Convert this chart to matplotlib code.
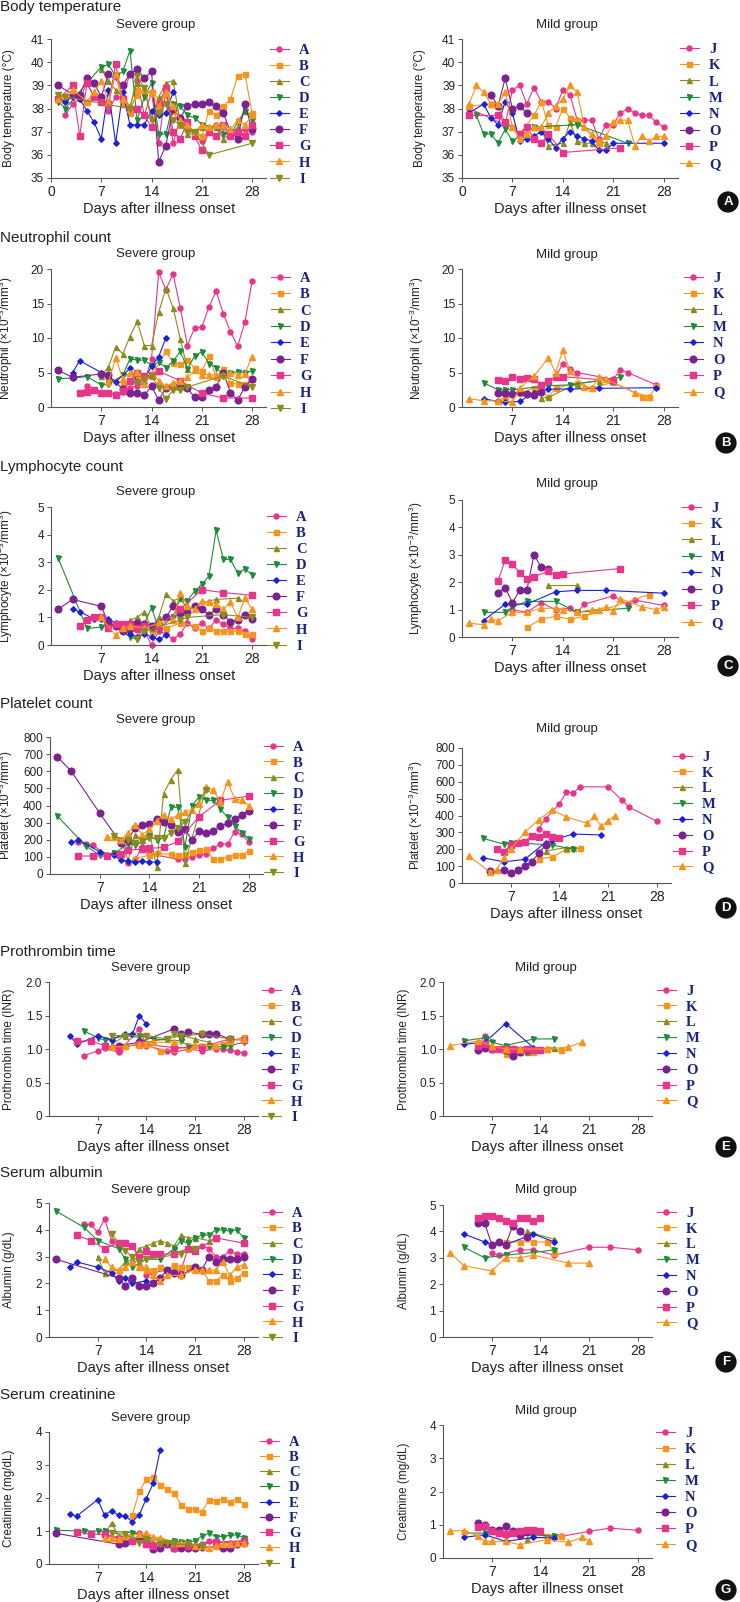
import matplotlib
matplotlib.use('Agg')
import matplotlib.pyplot as plt
from matplotlib import font_manager

# ---- fonts ----
names = {f.name for f in font_manager.fontManager.ttflist}
narrow = 'Liberation Sans Narrow' if 'Liberation Sans Narrow' in names else 'Liberation Sans'
plt.rcParams['font.family'] = [narrow, 'DejaVu Sans']
plt.rcParams['mathtext.fontset'] = 'custom'
plt.rcParams['mathtext.rm'] = 'Liberation Sans'
plt.rcParams['mathtext.it'] = 'Liberation Sans:italic'

# ---- data (days after onset, values) ----
temp_severe = {
    'A': ([2,3,4,5,6,7,8,9,10,11,12,13,14,15,16,17,18,19,20,21,22,23,24,25,26,27,28],
          [37.7,38.2,38.4,39.1,38.5,38.4,37.9,38.5,38.5,39.5,39.2,37.7,38.7,36.5,38.9,36.5,37.6,37.4,36.8,36.6,37.0,37.3,37.2,36.9,37.0,37.1,37.0]),
    'B': ([1,2,3,5,6,7,8,9,10,11,12,13,14,15,16,17,18,19,20,21,22,23,24,25,26,27,28],
          [38.4,38.4,38.7,38.3,38.6,38.3,38.2,39.5,38.2,37.8,38.8,38.7,38.7,38.4,38.6,37.9,37.3,37.1,37.0,36.8,37.9,37.7,38.1,38.4,39.4,39.5,37.8]),
    'C': ([7,8,9,10,11,12,13,14,15,16,17,18,19,20,21,22,23,24,25,26,27,28],
          [39.7,39.2,38.8,38.5,38.1,39.1,38.9,37.6,38.5,39.1,39.2,37.4,36.9,36.9,37.2,37.2,37.2,36.7,36.9,37.2,37.9,37.7]),
    'D': ([1,2,5,7,8,9,10,11,12,13,14,15,16,17,18,19,20,21,23,24,25,26,27,28],
          [38.3,38.0,39.1,39.8,39.9,39.4,39.6,40.5,37.5,38.5,39.1,36.9,36.9,38.2,38.1,37.7,37.6,37.3,37.2,36.9,36.9,37.4,37.9,37.5]),
    'E': ([1,2,3,4,5,6,7,8,9,10,11,12,13,14,15,16,17],
          [38.4,38.3,38.5,38.4,37.9,37.4,36.7,38.8,36.5,38.7,37.3,37.3,37.3,37.9,37.7,37.8,38.7]),
    'F': ([1,3,4,5,6,7,8,10,11,12,13,14,15,16,17,18,19,20,21,22,23,24,25,26,27,28],
          [39.0,38.6,38.6,39.3,39.1,38.5,39.5,39.0,39.5,39.7,39.3,39.6,35.7,36.4,38.0,37.6,38.1,38.2,38.2,38.3,38.1,37.8,37.0,36.7,38.2,37.1]),
    'G': ([1,3,4,5,6,7,8,9,10,11,12,13,14,15,16,17,18,19,20,21,22,23,24,25,26,27,28],
          [38.4,39.0,36.8,39.1,38.5,38.3,38.2,39.9,38.4,38.0,38.0,37.7,37.2,38.2,38.9,37.0,36.7,37.4,36.8,36.2,37.0,36.8,37.3,36.8,37.0,36.8,37.3]),
    'H': ([1,3,5,6,7,8,9,10,11,12,13,14,15,16,17,18,19,20,21,22,23,24,25,26,27,28],
          [38.4,38.8,38.3,38.7,39.2,38.3,39.5,38.4,38.0,38.6,38.8,38.7,38.1,38.7,38.1,37.5,37.3,37.0,37.3,37.2,37.3,37.3,37.1,37.5,37.3,37.7]),
    'I': ([1,2,11,12,13,14,15,16,17,18,19,20,22,28],
          [38.6,38.5,38.0,39.4,38.9,37.5,37.8,38.2,37.5,37.3,37.0,37.0,36.0,36.5]),
}
temp_mild = {
    'J': ([1,6,7,8,9,10,11,12,13,14,15,16,17,18,19,20,21,22,23,24,25,26,27,28],
          [38.0,37.3,38.8,39.0,38.2,38.9,38.3,38.3,38.0,38.8,38.6,37.5,37.5,37.5,36.7,37.3,37.3,37.8,38.0,37.8,37.7,37.7,37.4,37.2]),
    'K': ([1,4,5,6,7,8,10,11,12,13,14,15,16,19],
          [38.1,38.2,38.1,37.4,37.2,36.9,37.7,38.3,37.3,37.2,38.0,37.6,37.5,36.5]),
    'L': ([10,11,12,14,15,16,17,18,19,20], [37.2,37.1,36.4,36.5,37.4,36.6,36.5,36.5,36.6,36.5]),
    'M': ([2,3,4,5,6,7,10,16,23], [37.7,36.9,36.9,36.5,37.1,36.6,37.2,37.3,36.5]),
    'N': ([1,3,4,5,6,7,8,9,10,11,12,13,14,15,16,17,18,19,20,21,28],
          [37.8,38.2,37.6,37.3,38.3,37.8,36.6,36.7,36.8,37.0,36.7,36.3,36.7,37.0,36.8,36.7,36.6,36.2,36.2,36.5,36.5]),
    'O': ([4,5,6,7,8,9], [38.6,38.1,39.3,38.0,38.1,37.8]),
    'P': ([1,5,6,8,9,10,11,12,14,22], [37.7,37.7,37.4,36.9,37.2,36.7,36.5,36.9,36.1,36.3]),
    'Q': ([1,2,3,4,5,6,7,8,9,10,11,12,13,14,15,16,17,18,19,20,21,22,23,24,25,26,27,28],
          [38.2,39.0,38.7,38.2,38.2,38.7,37.2,36.7,36.9,37.2,37.2,37.8,38.1,38.4,39.0,38.7,37.2,36.9,36.6,36.8,37.4,37.5,37.5,36.4,36.8,36.6,36.8,36.8]),
}

neut_severe = {
    'A': ([5,6,7,8,9,10,11,12,13,14,15,16,17,18,19,20,21,22,23,24,25,26,27,28],
          [3.1,2.5,2.1,2.0,1.9,2.2,2.8,3.0,3.5,7.0,19.5,17.0,19.3,14.4,8.9,11.5,11.6,14.5,16.8,13.5,10.9,8.8,12.3,18.2]),
    'B': ([8,10,12,14,16,17,18,19,20,21,22,23,24,25,26,27,28],
          [3.9,3.5,4.0,4.5,8.1,6.4,6.2,6.8,5.6,5.2,7.4,4.3,5.5,3.5,3.3,3.3,4.0]),
    'C': ([7,8,9,10,11,12,13,14,15,16,17,18,19],
          [4.5,5.8,8.7,7.7,10.2,12.4,8.9,8.9,13.7,17.2,14.4,9.9,5.5]),
    'D': ([1,3,5,7,8,10,11,12,13,14,15,16,17,18,19,20,21,22,23,24,25,26,27,28],
          [4.1,4.2,4.4,3.2,3.3,4.6,7.0,6.8,6.8,6.0,6.5,5.7,6.6,8.1,5.5,7.4,8.0,6.3,5.7,4.7,5.0,5.1,5.0,5.2]),
    'E': ([3,4,7,8,9,11,12,13,14,15,16], [5.0,6.7,5.0,4.4,3.6,5.6,3.6,4.0,5.9,7.3,10.0]),
    'F': ([1,3,7,8,10,11,12,13,14,15,16,17,18,19,20,21,22,23,24,25,26,27,28],
          [5.3,4.3,4.8,4.6,2.6,2.0,2.0,1.7,3.0,1.0,2.7,3.0,2.9,2.7,1.4,1.5,2.5,2.9,5.0,2.1,1.0,2.9,4.0]),
    'G': ([4,5,6,7,8,9,10,11,12,13,14,15,18,21,24,28],
          [2.1,2.2,2.4,2.0,2.0,1.8,2.3,3.7,5.0,4.5,4.6,5.2,3.8,2.0,1.3,1.3]),
    'H': ([8,9,10,11,12,13,14,15,16,17,18,19,20,21,22,23,24,25,26,27,28],
          [3.6,7.1,4.1,5.0,5.1,3.3,4.9,3.8,3.0,3.5,3.8,4.3,5.3,4.7,4.7,4.6,4.7,5.0,4.7,4.8,7.3]),
    'I': ([12,13,14,15,16,17,18,19,24,28], [3.5,4.1,4.5,2.8,1.2,2.4,2.5,2.9,4.5,2.9]),
}
neut_mild = {
    'J': ([13,14,15,16,21,22,23,27], [4.3,6.3,5.5,5.0,4.0,5.4,5.0,3.2]),
    'K': ([5,6,8,10,12,13,16,18,21,25,26,27], [0.8,1.5,2.0,2.7,1.5,2.7,3.5,2.7,3.6,1.5,1.4,3.1]),
    'L': ([11,12,16,19], [1.3,1.4,3.4,3.8]),
    'M': ([3,5,6,7,12,15,22], [3.5,2.5,2.5,2.5,3.1,3.2,4.3]),
    'N': ([3,5,6,8,10,12,15,19,27], [1.2,0.8,0.7,0.8,2.1,2.6,2.6,2.7,2.8]),
    'O': ([5,6,7,8,9,10,11], [2.0,2.1,1.9,2.2,1.9,1.7,2.2]),
    'P': ([5,6,7,8,9,10,11,12,13,14,21], [3.9,3.8,4.3,4.1,4.2,4.0,3.2,3.8,4.3,4.4,3.8]),
    'Q': ([1,3,5,7,8,10,12,13,14,15,17,18,19,20,24,26],
          [1.2,0.9,0.9,0.7,2.7,4.5,7.1,5.0,8.2,5.2,2.9,2.7,4.3,4.0,2.1,1.5]),
}

lymph_severe = {
    'A': ([10,11,12,13,14,15,16,17,18,19,20,21,22,23,24,25,26,27,28],
          [0.6,0.5,0.55,0.5,0.0,0.5,0.4,0.2,0.4,0.8,0.6,0.8,0.6,0.9,0.75,0.6,0.6,0.5,0.2]),
    'B': ([12,14,16,18,20,21,22,23,24,25,26,27,28], [0.6,0.5,0.6,0.8,0.7,0.5,0.6,0.5,0.5,0.5,0.5,0.4,0.4]),
    'C': ([11,12,13,14,15,16,17,18,19,20,22,23,26], [0.9,1.0,1.2,0.6,1.0,1.85,1.6,1.7,1.3,1.4,1.6,1.65,1.7]),
    'D': ([1,5,7,8,11,12,14,15,17,18,19,20,21,22,23,24,25,26,27,28],
          [3.15,0.6,0.65,0.8,0.3,0.2,1.35,0.6,1.0,1.7,1.6,1.95,2.2,2.5,4.15,3.1,3.1,2.6,2.75,2.55]),
    'E': ([3,4,6,7,8,9,11,12,13,14,15,16], [1.3,1.2,0.95,0.95,0.95,0.8,0.4,0.3,0.4,0.3,0.2,0.35]),
    'F': ([1,3,7,8,9,10,11,12,13,14,16,17,18,19,20,21,22,23,24,25,26,27,28],
          [1.3,1.65,1.4,0.8,0.7,0.5,0.6,0.8,0.75,0.7,1.0,1.4,1.15,1.2,1.4,1.3,1.1,1.3,1.1,0.85,0.9,1.1,0.95]),
    'G': ([4,5,6,7,8,9,10,11,12,13,15,18,21,24,28],
          [0.7,0.9,1.0,1.0,0.6,0.75,0.75,0.75,0.6,0.7,0.7,1.3,2.0,1.9,1.8]),
    'H': ([7,9,10,11,13,15,17,18,19,20,21,22,23,24,25,26,27,28],
          [1.0,0.35,0.6,0.7,0.6,0.8,0.9,1.9,1.4,1.3,1.6,1.55,1.5,1.3,1.55,1.0,1.7,1.3]),
    'I': ([12,13,18,19,24,28], [0.2,0.5,0.9,1.0,1.1,1.0]),
}
lymph_mild = {
    'J': ([7,9,11,13,15,16,17,21,23,24,28], [1.0,0.9,1.25,1.0,1.05,0.9,1.2,1.5,1.2,1.35,1.15]),
    'K': ([9,11,13,15,17,26], [0.35,0.65,0.75,0.65,0.75,1.55]),
    'L': ([12,16], [1.9,1.9]),
    'M': ([3,6,7,9,13,16,23], [0.9,0.9,1.1,1.3,1.3,0.9,1.05]),
    'N': ([3,6,9,13,16,20,28], [0.6,1.2,1.2,1.65,1.7,1.7,1.6]),
    'O': ([5,6,7,8,9,10,11,12], [1.6,1.8,1.25,1.7,1.7,3.0,2.55,2.5]),
    'P': ([5,6,7,8,9,10,12,13,14,22], [2.05,2.8,2.65,2.35,2.1,2.2,2.4,2.25,2.3,2.5]),
    'Q': ([1,3,4,5,7,9,11,13,14,16,18,19,20,21,22,25,27,28],
          [0.5,0.45,0.65,0.6,0.9,0.9,1.05,1.05,1.0,0.9,1.0,1.0,1.1,0.95,1.4,1.1,1.0,1.1]),
}

plt_severe = {
    'A': ([4,5,6,8,9,11,12,13,14,18,19,20,21,22,23,24,25,26,27,28],
          [185,175,170,110,120,65,85,160,120,85,90,100,110,115,150,175,175,245,235,185]),
    'B': ([12,14,15,17,18,19,20,21,22,23,24,25,26,27,28],
          [90,110,120,115,110,115,130,140,145,85,85,100,110,110,135]),
    'C': ([9,10,11,12,13,14,15,16,17,18,19,22], [230,200,80,230,200,250,40,470,550,610,65,500]),
    'D': ([1,5,7,9,11,12,13,14,15,16,17,18,19,20,21,22,23,24,25,26,27,28],
          [340,165,110,120,175,170,190,220,200,210,390,390,160,400,450,430,430,380,330,280,240,205]),
    'E': ([3,4,7,9,10,11,12,13,14,15], [185,200,130,110,80,75,70,75,70,70]),
    'F': ([1,3,7,10,11,12,13,14,15,16,17,18,19,20,21,22,23,24,25,26,27,28],
          [685,600,355,180,200,270,285,290,320,305,285,245,260,200,250,240,250,280,295,320,345,370]),
    'G': ([4,6,8,10,11,13,14,16,18,21,24,28], [105,105,105,115,140,145,150,155,190,335,430,455]),
    'H': ([8,9,10,11,12,13,14,15,16,17,18,19,20,21,22,23,24,25,26,27,28],
          [215,215,200,240,285,230,260,310,345,320,345,360,375,410,510,490,420,540,440,430,400]),
    'I': ([9,11,12,13,14,15,16,17,18,19,22], [220,200,180,190,210,210,210,240,270,305,490]),
}
plt_mild = {
    'J': ([11,12,14,15,16,17,21,23,24,28], [320,380,470,540,535,570,570,490,450,365]),
    'K': ([11,13,15,17], [140,155,200,205]),
    'L': ([12,15,16], [190,210,210]),
    'M': ([3,6,7,13,16], [265,230,240,225,200]),
    'N': ([3,6,9,12,13,16,20], [150,125,140,240,255,290,285]),
    'O': ([4,6,7,8,9,10,11,12], [70,75,60,75,100,125,175,225]),
    'P': ([5,6,7,8,9,10,11,12,13,14], [200,185,225,240,245,280,270,290,270,265]),
    'Q': ([1,4,5,6,7,9,11,13,15,18,19,20,21,22], [160,65,80,150,200,300,375,435,390,355,395,335,370,400]),
}

pt_severe = {
    'A': ([5,7,8,10,13,14,17,18,20,22,24,25,26,27,28],
          [0.9,0.97,1.02,0.95,1.3,1.05,0.97,0.95,1.0,0.97,1.0,1.0,0.98,0.96,0.94]),
    'B': ([8,10,11,13,14,16,18,20,22,23,25,28], [1.05,1.02,1.05,1.06,1.07,0.97,1.0,1.02,1.05,1.05,1.08,1.18]),
    'C': ([9,11,13,14,15,17,19,21,23], [1.07,1.2,1.17,1.1,1.12,1.15,1.2,1.15,1.1]),
    'D': ([5,7,8,11,13,15,19,20,23,25,26,28], [1.27,1.17,1.13,1.2,1.2,1.15,1.12,1.05,1.05,1.03,1.05,1.1]),
    'E': ([3,4,7,9,11,12,13,14], [1.2,1.07,1.2,1.14,1.23,1.22,1.5,1.37]),
    'F': ([10,13,18,19,20,22,23,24,26], [1.05,1.1,1.3,1.22,1.25,1.22,1.22,1.23,1.15]),
    'G': ([4,6,8,10,13,18,22,26,28], [1.12,1.12,1.05,1.0,1.08,1.02,1.03,1.15,1.13]),
    'H': ([9,11,13,14,15,18,21,24,26,28], [1.03,1.04,1.08,1.08,1.1,1.1,1.06,1.05,1.12,1.15]),
    'I': ([9,11,14,17,18,19,22,26], [1.2,1.2,1.2,1.15,1.22,1.2,1.22,1.15]),
}
pt_mild = {
    'J': ([5,6,7,9,10], [1.05,1.2,0.98,1.0,1.0]),
    'K': ([9,11,13,15,17], [0.92,0.95,0.95,1.0,0.98]),
    'L': ([10,12,14,16], [1.0,0.95,1.0,1.02]),
    'M': ([3,6,7,9,13,16], [1.12,1.17,1.1,1.05,1.15,1.15]),
    'N': ([3,6,9,13], [1.07,1.1,1.38,1.02]),
    'O': ([5,6,10,11,12], [0.98,1.02,0.9,0.95,0.98]),
    'P': ([5,6,7,8,9,10,11,12,13,14], [1.05,1.07,1.0,1.0,1.0,1.0,0.98,1.0,0.98,0.98]),
    'Q': ([1,5,7,9,11,15,18,20], [1.05,1.12,1.05,1.0,1.0,1.0,1.03,1.1]),
}

alb_severe = {
    'A': ([5,6,7,8,9,10,11,12,13,14,15,17,19,20,21,22,23,24,25,26,27,28],
          [4.2,4.2,3.9,4.4,3.6,3.5,3.5,3.4,2.9,2.3,2.4,2.5,2.5,3.3,3.3,3.4,3.3,3.0,3.0,3.2,3.1,3.1]),
    'B': ([13,14,15,16,17,18,19,20,21,22,23,24,25,26,27,28],
          [2.6,2.5,2.5,2.6,2.5,2.7,2.6,2.6,2.6,2.5,2.1,2.1,2.3,2.1,2.2,2.4]),
    'C': ([7,8,10,11,12,13,14,15,16,17,18,19,20,21,23,24],
          [3.0,2.4,2.5,2.8,2.9,3.3,3.4,3.5,3.6,3.5,3.4,3.8,3.7,3.7,3.6,3.7]),
    'D': ([1,5,7,10,11,12,14,16,18,19,20,21,22,23,24,25,26,27,28],
          [4.7,4.1,3.6,3.3,2.9,2.6,2.9,2.9,3.3,3.6,3.5,3.7,3.8,3.8,4.0,4.0,3.95,4.0,3.7]),
    'E': ([3,4,7,9,10,11,12,14], [2.6,2.8,2.6,2.4,2.1,2.2,2.0,2.1]),
    'F': ([1,10,11,12,13,14,15,16,17,18,19,21,22,23,24,25,26,27,28],
          [2.9,2.2,1.9,2.2,1.9,1.9,2.0,2.2,2.5,2.4,2.3,2.6,2.5,3.0,2.8,2.9,2.9,2.9,3.0]),
    'G': ([4,6,8,10,11,12,13,14,15,16,18,20,21,24,28],
          [3.8,3.6,3.3,3.5,3.5,3.4,3.0,3.2,3.1,3.1,3.1,3.3,3.2,3.7,3.5]),
    'H': ([8,9,10,11,12,13,14,15,16,17,19,21,22,23,24,25,26,27,28],
          [2.9,2.6,2.5,2.6,2.8,2.6,2.6,2.3,2.1,2.3,2.3,2.5,2.5,2.5,2.5,2.8,2.3,2.6,2.7]),
    'I': ([9,11,12,13,14,19,21], [3.85,3.2,3.0,2.8,2.9,3.1,3.3]),
}
alb_mild = {
    'J': ([7,8,11,13,16,21,24,28], [3.2,3.1,3.3,3.3,3.1,3.4,3.4,3.3]),
    'K': ([9,11,13,15,16], [3.6,3.6,3.6,3.6,3.2]),
    'L': ([12,16], [4.0,3.7]),
    'M': ([3,6,9,13,16], [3.4,3.0,3.1,3.2,3.3]),
    'N': ([3,6,7,9,13,16], [3.9,3.6,3.5,3.5,3.9,3.6]),
    'O': ([5,6,7,8,9,10,11,12], [4.3,4.3,3.5,3.6,3.5,4.2,4.0,3.8]),
    'P': ([5,6,7,8,9,10,11,12,13,14], [4.5,4.6,4.6,4.5,4.4,4.3,4.5,4.5,4.4,4.5]),
    'Q': ([1,3,7,9,11,13,18,21], [3.2,2.7,2.5,3.0,3.0,3.1,2.8,2.8]),
}

cre_severe = {
    'A': ([8,10,13,14,15,17,19,22,23,24,26,28], [0.9,0.8,0.95,0.75,0.6,0.6,0.6,0.6,0.7,0.65,0.65,0.7]),
    'B': ([12,13,14,15,16,17,18,19,20,21,22,23,24,25,26,27,28],
          [1.5,2.2,2.57,2.65,2.4,2.27,2.15,1.8,1.67,1.67,1.58,1.93,1.92,1.98,1.88,1.98,1.83]),
    'C': ([8,9,10,13,16,19], [0.9,1.25,0.85,0.8,0.75,0.65]),
    'D': ([1,5,7,8,12,14,16,18,19,20,21,22,23,24,25,26,27,28],
          [1.02,1.0,1.0,1.0,0.95,0.85,0.7,0.7,0.68,0.67,0.7,0.85,0.93,0.83,0.83,0.87,0.88,0.8]),
    'E': ([3,4,7,8,9,10,11,12,13,14,15,16], [1.53,1.45,1.95,1.48,1.62,1.48,1.45,1.28,1.5,1.98,2.45,3.45]),
    'F': ([1,10,11,13,15,16,17,18,19,20,21,22,25,26,27,28],
          [0.93,0.6,0.65,0.75,0.45,0.5,0.6,0.5,0.48,0.48,0.47,0.52,0.5,0.48,0.6,0.65]),
    'G': ([4,6,8,10,12,14,15,18,20,24,28], [0.98,0.9,0.9,0.75,0.7,0.62,0.55,0.5,0.55,0.67,0.7]),
    'H': ([8,9,10,11,13,14,15,16,18,19,21,22,23,24,25,26,27,28],
          [0.78,0.78,0.75,0.85,0.9,0.95,0.82,0.8,0.65,0.65,0.55,0.55,0.5,0.55,0.6,0.62,0.65,0.65]),
    'I': ([9,11,13,14,16,17,18,20,22], [0.93,0.9,0.65,0.75,0.6,0.65,0.6,0.6,0.55]),
}
cre_mild = {
    'J': ([5,6,7,9,11,13,17,21,24,28], [1.0,1.0,0.8,0.75,0.8,0.75,0.65,0.8,0.9,0.83]),
    'K': ([9,11,13,15,17], [0.75,0.75,0.75,0.65,0.65]),
    'L': ([12,16], [0.58,0.65]),
    'M': ([3,6,9,13,16], [0.75,0.75,0.65,0.7,0.65]),
    'N': ([3,6,9,13,16], [0.62,0.7,0.5,0.62,0.6]),
    'O': ([5,6,7,8,9,10,11,12], [1.05,1.0,0.85,0.83,0.97,0.8,0.68,0.77]),
    'P': ([5,6,7,8,9,10,11,12,13,14], [0.92,0.95,0.8,0.75,0.72,0.75,0.8,0.85,0.83,0.8]),
    'Q': ([1,3,5,6,7,9,11,15,18,20,21], [0.82,0.82,0.67,0.5,0.5,0.5,0.4,0.55,0.47,0.62,0.52]),
}

# ---- styles ----
PINK, ORANGE, OLIVE, GREEN, BLUE, PURPLE = '#e8358c', '#f7941d', '#8c8c1e', '#1e8c3a', '#1a22d6', '#7b2290'
style_list = [(PINK, 'o', 3.6), (ORANGE, 's', 3.6), (OLIVE, '^', 3.6), (GREEN, 'v', 3.6),
              (BLUE, 'D', 2.8), (PURPLE, 'o', 4.8), (PINK, 's', 4.6), (ORANGE, '^', 4.2), (OLIVE, 'v', 4.2)]
severe_keys = list('ABCDEFGHI')
mild_keys = list('JKLMNOPQ')

W, H = 740, 1602
fig = plt.figure(figsize=(W / 100, H / 100), dpi=100)
fig.patch.set_facecolor('white')
TXT = '#222222'
SPINE = '#555555'
unit = r' ($\times$10$^{-3}$/mm$^{3}$)'


def panel(data, keys, geo, ylim, yticks, ylabels, ylabel, leg, zero):
    x0, top, bottom, ppd, ylx = geo
    wpx = 30 * ppd
    ax = fig.add_axes([x0 / W, 1 - bottom / H, wpx / W, (bottom - top) / H])
    for i, k in enumerate(keys):
        c, m, ms = style_list[i]
        d, v = data[k]
        ax.plot(d, v, color=c, marker=m, ms=ms, lw=0.8, mec=c, mfc=c, clip_on=False, label=k)
    ax.set_xlim(0, 30)
    ax.set_ylim(*ylim)
    ax.set_xticks([0, 7, 14, 21, 28] if zero else [7, 14, 21, 28])
    ax.set_yticks(yticks)
    ax.set_yticklabels(ylabels)
    for s in ['top', 'right']:
        ax.spines[s].set_visible(False)
    for s in ['left', 'bottom']:
        ax.spines[s].set_color(SPINE)
        ax.spines[s].set_linewidth(0.8)
    ax.tick_params(direction='out', length=3, width=0.7, color=SPINE, labelsize=10, labelcolor=TXT, pad=2)
    for t in ax.get_yticklabels():
        t.set_fontfamily('Liberation Sans')
        t.set_fontsize(8.5)
    ax.set_ylabel(ylabel, fontsize=8.5, color=TXT, family='Liberation Sans')
    # label anchor is the right edge of the rotated text; centre it on the reference position
    ax.yaxis.set_label_coords((ylx + 6 - x0) / wpx, 0.5)
    ax.set_xlabel('Days after illness onset', fontsize=10.5, color=TXT, labelpad=2)
    lx, ly, sp = leg
    lg = ax.legend(loc='upper left', bbox_to_anchor=(lx / W, 1 - (ly - 5.5) / H), bbox_transform=fig.transFigure,
                   frameon=False, borderpad=0, borderaxespad=0, handlelength=1.3, handletextpad=0.7,
                   labelspacing=sp, prop={'family': 'Liberation Serif', 'weight': 'bold', 'size': 10.5})
    for t in lg.get_texts():
        t.set_color('#1c2280')
    return ax


nums = lambda a: [str(x) for x in a]
rows = [
    # section, y, data pair, ylim, ticks, labels, ylabel, show 0 on x
    ('Body temperature', 7, temp_severe, temp_mild, (35, 41), [35, 36, 37, 38, 39, 40, 41],
     nums([35, 36, 37, 38, 39, 40, 41]), 'Body temperature (\u00b0C)', True),
    ('Neutrophil count', 238, neut_severe, neut_mild, (0, 20), [0, 5, 10, 15, 20], nums([0, 5, 10, 15, 20]),
     'Neutrophil' + unit, False),
    ('Lymphocyte count', 467, lymph_severe, lymph_mild, (0, 5), [0, 1, 2, 3, 4, 5], nums(range(6)),
     'Lymphocyte' + unit, False),
    ('Platelet count', 704, plt_severe, plt_mild, (0, 800), list(range(0, 801, 100)), nums(range(0, 801, 100)),
     'Platelet' + unit, False),
    ('Prothrombin time', 952, pt_severe, pt_mild, (0, 2), [0, 0.5, 1, 1.5, 2], ['0', '0.5', '1.0', '1.5', '2.0'],
     'Prothrombin time (INR)', False),
    ('Serum albumin', 1173, alb_severe, alb_mild, (0, 5), [0, 1, 2, 3, 4, 5], nums(range(6)),
     'Albumin (g/dL)', False),
    ('Serum creatinine', 1395, cre_severe, cre_mild, (0, 4), [0, 1, 2, 3, 4], nums(range(5)),
     'Creatinine (mg/dL)', False),
]
# pixel layout: (x0, top, bottom, px per day, ylabel centre x), legend (x, first row y, spacing), titles (x, y)
left_geo = [(51, 39, 178, 7.18, 9), (51, 269, 407, 7.18, 9), (51, 507, 645, 7.18, 9), (50, 737, 874, 7.1, 9),
            (49, 982, 1116, 6.95, 9), (49, 1203, 1337, 6.95, 9), (49, 1432, 1564, 6.95, 9)]
right_geo = [(462, 39, 178, 7.2, 420), (462, 269, 407, 7.2, 420), (462, 500, 637, 7.2, 419),
             (462, 748, 883, 6.96, 419), (443, 982, 1116, 6.96, 404), (443, 1205, 1337, 6.96, 404),
             (443, 1425, 1558, 6.96, 404)]
left_leg = [(270, 49, 0.2), (271, 277, 0.22), (267, 516, 0.2), (264, 746, 0.18),
            (262, 990, 0.18), (263, 1212, 0.17), (260, 1441, 0.14)]
right_leg = [(680, 48, 0.22), (684, 277, 0.22), (682, 507, 0.22), (673, 756, 0.18),
             (657, 990, 0.18), (657, 1212, 0.18), (656, 1432, 0.2)]
left_title = [(156, 25), (156, 254), (156, 492), (156, 720), (151, 968), (151, 1190), (151, 1418)]
right_title = [(567, 25), (567, 255), (567, 484), (567, 729), (546, 968), (546, 1190), (546, 1411)]
badges = [('A', 728, 202), ('B', 726, 443), ('C', 728, 666), ('D', 726, 908),
          ('E', 726, 1147), ('F', 726, 1362), ('G', 726, 1590)]

for i, (sec, sy, dsev, dmild, ylim, ticks, labels, ylab, zero) in enumerate(rows):
    fig.text(0.5 / W, 1 - sy / H, sec, fontsize=11, color=TXT, ha='left', va='center')
    panel(dsev, severe_keys, left_geo[i], ylim, ticks, labels, ylab, left_leg[i], zero)
    panel(dmild, mild_keys, right_geo[i], ylim, ticks, labels, ylab, right_leg[i], zero)
    fig.text(left_title[i][0] / W, 1 - left_title[i][1] / H, 'Severe group', fontsize=9.5, color=TXT,
             ha='center', va='center')
    fig.text(right_title[i][0] / W, 1 - right_title[i][1] / H, 'Mild group', fontsize=9.5, color=TXT,
             ha='center', va='center')

for letter, bx, by in badges:
    fig.text(bx / W, 1 - by / H, letter, fontsize=9.5, fontweight='bold', color='white', ha='center',
             va='center', family='Liberation Sans',
             bbox=dict(boxstyle='circle,pad=0.35', fc='#111111', ec='none'))

fig.savefig('out.png', dpi=100, facecolor='white')
